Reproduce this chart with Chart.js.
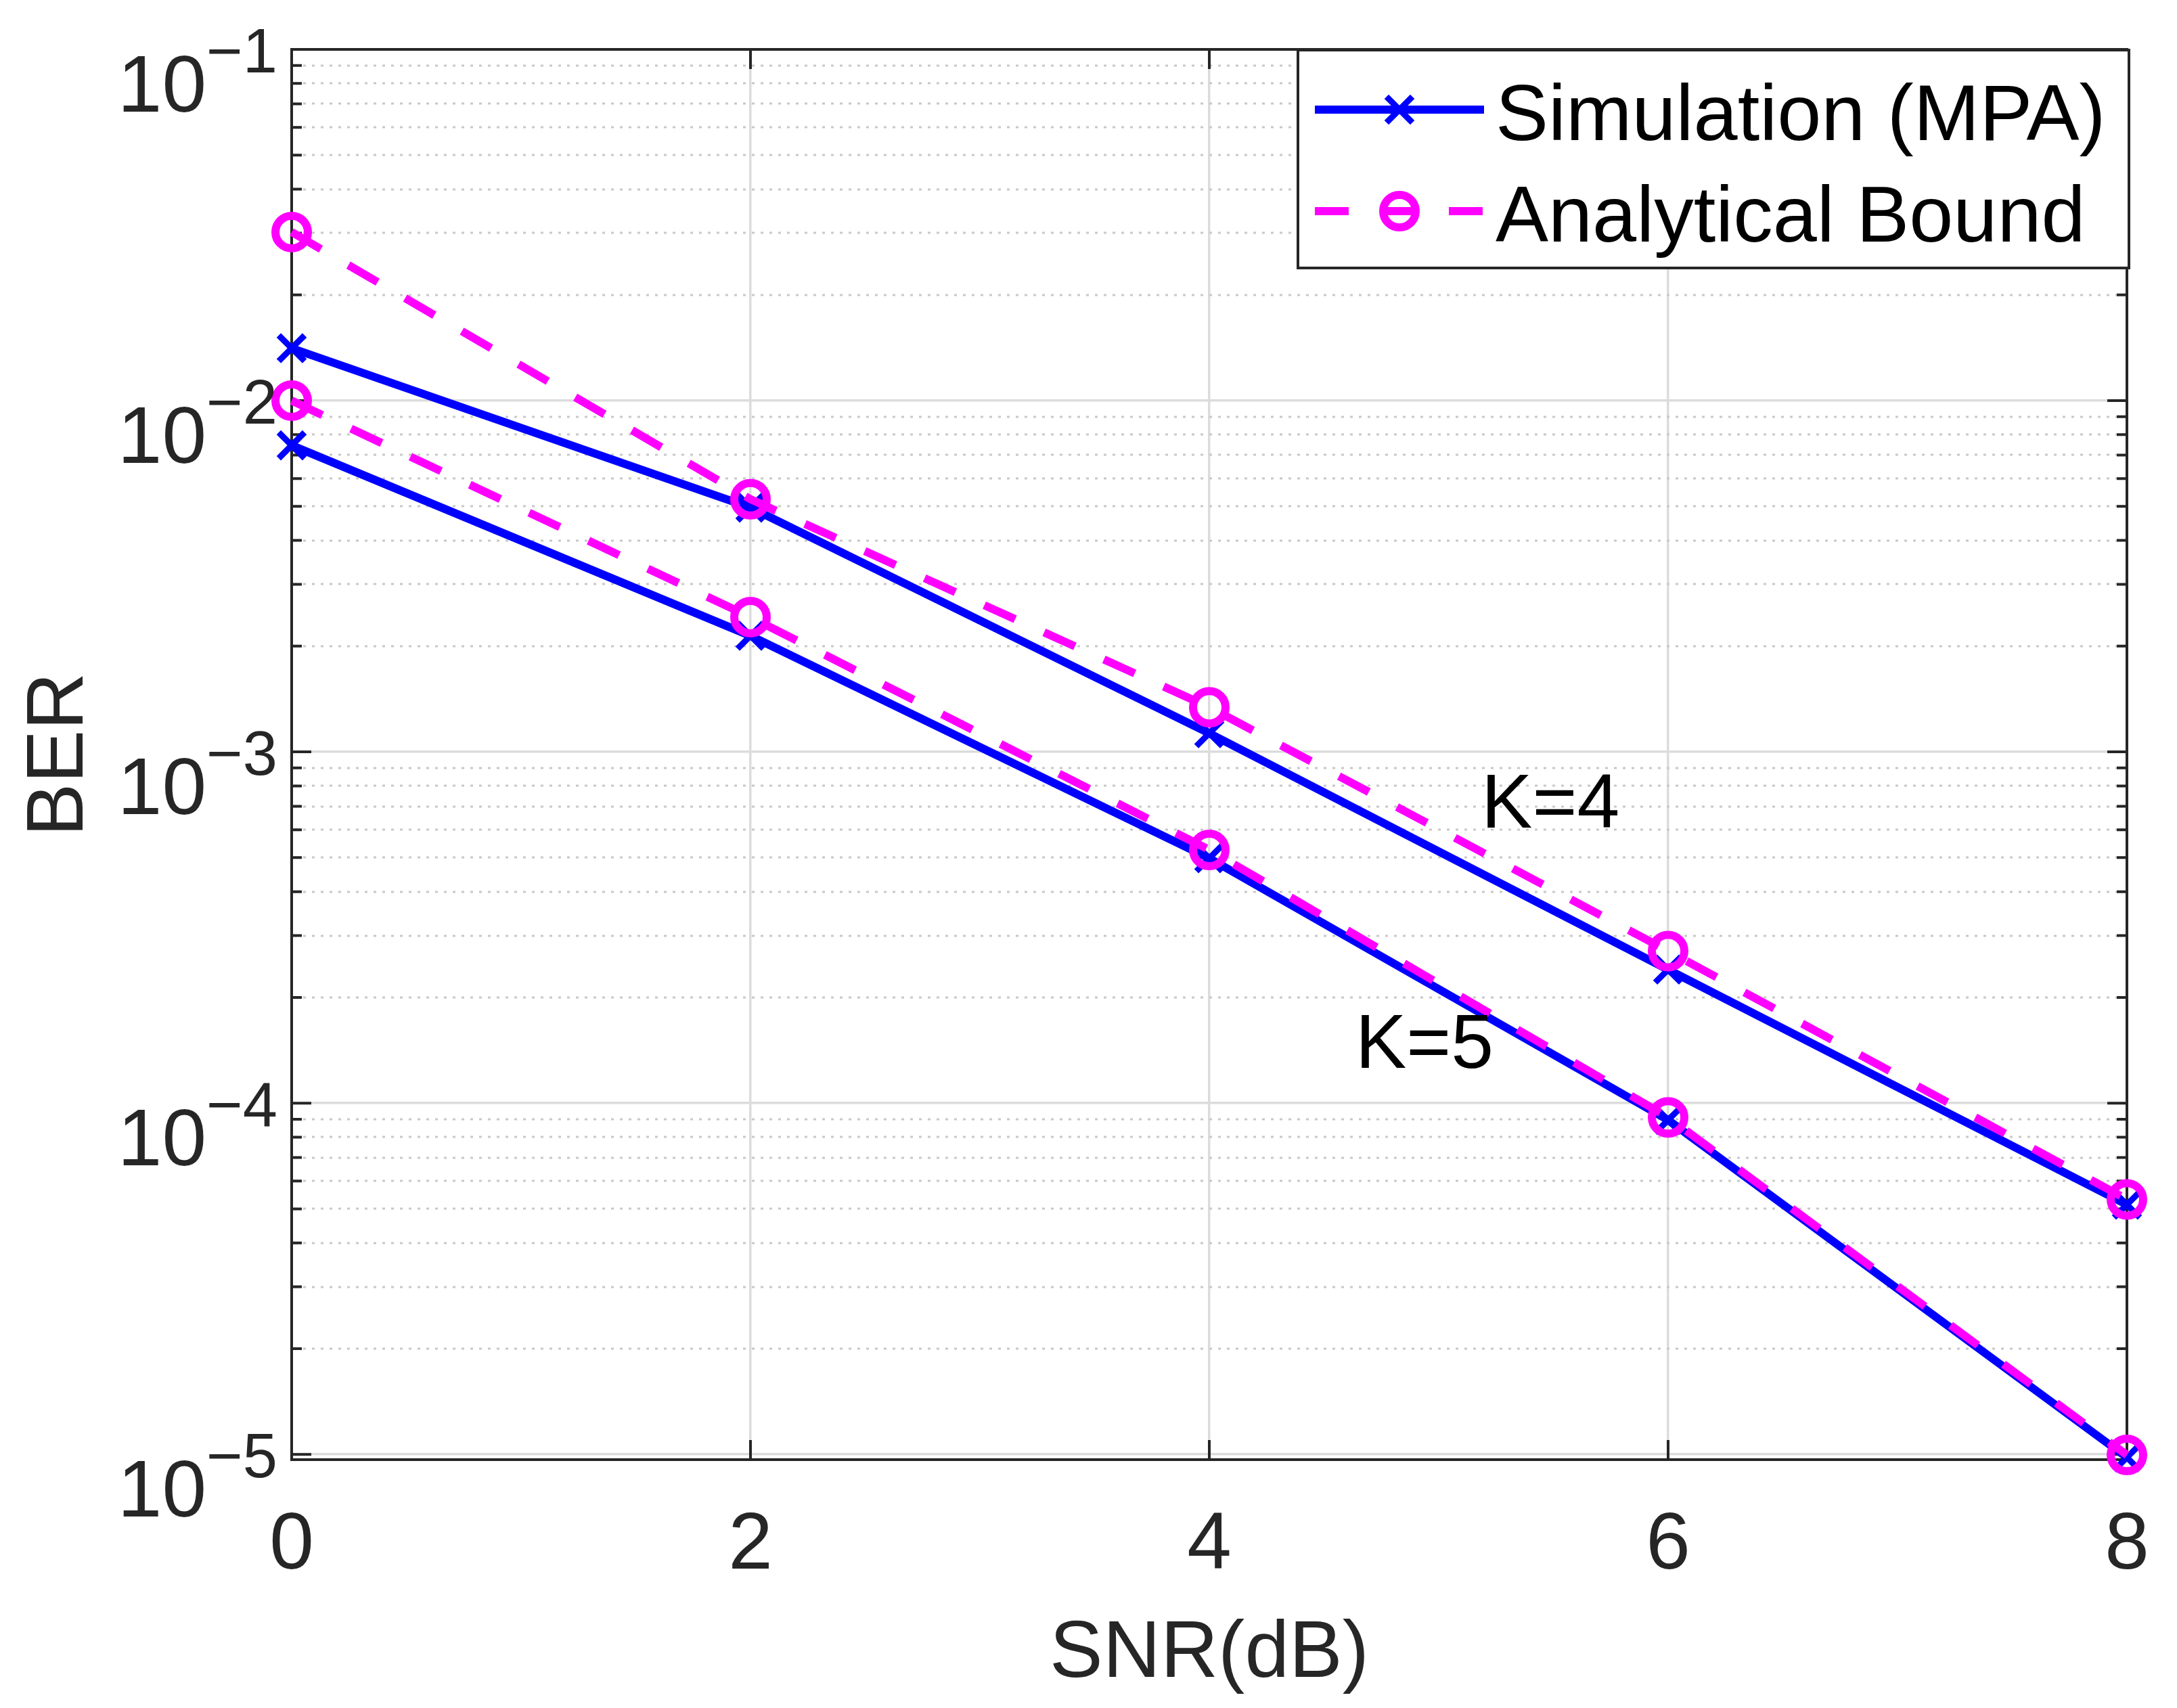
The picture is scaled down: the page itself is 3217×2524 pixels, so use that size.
<!DOCTYPE html>
<html><head><meta charset="utf-8">
<script src="https://cdn.jsdelivr.net/npm/chart.js@4.4.0/dist/chart.umd.min.js"></script>
<style>html,body{margin:0;padding:0;background:#fff;} canvas{display:block;}</style>
</head><body>
<canvas id="c" width="3217" height="2524" style="width:3217px;height:2524px"></canvas>
<script>
// ---- data ----
const snr = [0, 2, 4, 6, 8];
const simK4 = [1.41e-2, 4.96e-3, 1.13e-3, 2.40e-4, 5.14e-5];
const boundK4 = [3.02e-2, 5.24e-3, 1.34e-3, 2.71e-4, 5.32e-5];
const simK5 = [7.46e-3, 2.14e-3, 4.98e-4, 8.95e-5, 9.8e-6];
const boundK5 = [1.0e-2, 2.42e-3, 5.26e-4, 9.11e-5, 9.96e-6];
const xTicks = [0, 2, 4, 6, 8];
const yDecades = [-5, -4, -3, -2, -1];
const seriesNames = ['Simulation (MPA)', 'Analytical Bound'];
const curveNames = ['K=4', 'K=5'];
const curveNamePos = [[5.186, 6.08e-4], [4.637, 1.26e-4]];

// ---- style ----
const FONT = '"Liberation Sans", Arial, Helvetica, sans-serif';
const AX = '#262626';
const BLUE = '#0000ff', MAG = '#ff00ff';
const DASH = [50, 47];

function pts(arr) { return snr.map((x, i) => ({ x: x, y: arr[i] })); }
function simDs(label, arr) {
  return { label: label, data: pts(arr), borderColor: BLUE, backgroundColor: BLUE, borderWidth: 12,
    pointStyle: 'crossRot', pointRadius: 27, pointBorderWidth: 9, pointBorderColor: BLUE,
    pointBackgroundColor: BLUE, fill: false, tension: 0, order: 2, clip: false };
}
function bndDs(label, arr) {
  return { label: label, data: pts(arr), borderColor: MAG, backgroundColor: 'rgba(0,0,0,0)', borderWidth: 12,
    borderDash: DASH, pointStyle: 'circle', pointRadius: 24, pointBorderWidth: 12, pointBorderColor: MAG,
    pointBackgroundColor: 'rgba(0,0,0,0)', fill: false, tension: 0, order: 1, clip: false };
}

const minorVals = [];
for (let k = -6; k <= -2; k++) for (let m = 2; m <= 9; m++) minorVals.push(m * Math.pow(10, k));

const decor = {
  id: 'decor',
  beforeDatasetsDraw(chart) {
    const ctx = chart.ctx, a = chart.chartArea, ys = chart.scales.y, xs = chart.scales.x;
    ctx.save();
    // minor dotted grid
    ctx.strokeStyle = '#c8c8c8'; ctx.lineWidth = 3; ctx.setLineDash([4, 9]);
    minorVals.forEach(v => {
      if (v < ys.min || v > ys.max) return;
      const y = Math.round(ys.getPixelForValue(v));
      ctx.beginPath(); ctx.moveTo(a.left + 4, y); ctx.lineTo(a.right - 4, y); ctx.stroke();
    });
    ctx.setLineDash([]);
    // frame
    ctx.strokeStyle = AX; ctx.lineWidth = 4;
    ctx.strokeRect(a.left, a.top, a.right - a.left, a.bottom - a.top);
    // ticks
    ctx.beginPath();
    yDecades.forEach(k => {
      const y = ys.getPixelForValue(Math.pow(10, k));
      ctx.moveTo(a.left, y); ctx.lineTo(a.left + 29, y);
      ctx.moveTo(a.right, y); ctx.lineTo(a.right - 29, y);
    });
    minorVals.forEach(v => {
      if (v < ys.min || v > ys.max) return;
      const y = ys.getPixelForValue(v);
      ctx.moveTo(a.left, y); ctx.lineTo(a.left + 15, y);
      ctx.moveTo(a.right, y); ctx.lineTo(a.right - 15, y);
    });
    xTicks.forEach(v => {
      const x = xs.getPixelForValue(v);
      ctx.moveTo(x, a.bottom); ctx.lineTo(x, a.bottom - 29);
      ctx.moveTo(x, a.top); ctx.lineTo(x, a.top + 29);
    });
    ctx.stroke();
    ctx.restore();
  },
  afterDraw(chart) {
    const ctx = chart.ctx, a = chart.chartArea, ys = chart.scales.y, xs = chart.scales.x;
    ctx.save();
    ctx.fillStyle = AX;
    ctx.textBaseline = 'alphabetic';
    // x tick labels
    ctx.font = '118px ' + FONT; ctx.textAlign = 'center';
    xTicks.forEach(v => ctx.fillText(String(v), xs.getPixelForValue(v), 2318));
    // y tick labels 10^k
    ctx.textAlign = 'left';
    yDecades.forEach(k => {
      const y = ys.getPixelForValue(Math.pow(10, k));
      ctx.font = '118px ' + FONT;
      const w10 = ctx.measureText('10').width;
      ctx.font = '92px ' + FONT;
      const sup = '\u2212' + Math.abs(k);
      const ws = ctx.measureText(sup).width;
      const x0 = 410 - w10 - ws;
      ctx.font = '118px ' + FONT; ctx.fillText('10', x0, y + 92);
      ctx.font = '92px ' + FONT; ctx.fillText(sup, x0 + w10, y + 34);
    });
    // axis titles
    ctx.font = '118px ' + FONT; ctx.textAlign = 'center';
    ctx.fillText('SNR(dB)', (a.left + a.right) / 2, 2478);
    ctx.save(); ctx.translate(122, (a.top + a.bottom) / 2); ctx.rotate(-Math.PI / 2);
    ctx.fillText('BER', 0, 0); ctx.restore();
    // curve labels
    ctx.fillStyle = '#000'; ctx.font = '113px ' + FONT; ctx.textAlign = 'left';
    curveNames.forEach((t, i) => ctx.fillText(t, xs.getPixelForValue(curveNamePos[i][0]), ys.getPixelForValue(curveNamePos[i][1])));
    // legend
    const L = 1918, R = 3146, T = 74, B = 396;
    ctx.fillStyle = '#fff'; ctx.fillRect(L, T, R - L, B - T);
    ctx.strokeStyle = AX; ctx.lineWidth = 4; ctx.strokeRect(L, T, R - L, B - T);
    const rows = [162, 312];
    ctx.strokeStyle = BLUE; ctx.lineWidth = 12;
    ctx.beginPath(); ctx.moveTo(1943, rows[0]); ctx.lineTo(2193, rows[0]); ctx.stroke();
    ctx.lineWidth = 9; const o = 27 * Math.SQRT1_2;
    ctx.beginPath(); ctx.moveTo(2068 - o, rows[0] - o); ctx.lineTo(2068 + o, rows[0] + o);
    ctx.moveTo(2068 - o, rows[0] + o); ctx.lineTo(2068 + o, rows[0] - o); ctx.stroke();
    ctx.strokeStyle = MAG; ctx.lineWidth = 12; ctx.setLineDash([50, 49]);
    ctx.beginPath(); ctx.moveTo(1943, rows[1]); ctx.lineTo(2193, rows[1]); ctx.stroke();
    ctx.setLineDash([]);
    ctx.beginPath(); ctx.arc(2068, rows[1], 24, 0, Math.PI * 2); ctx.stroke();
    ctx.fillStyle = '#000'; ctx.font = '117px ' + FONT; ctx.textAlign = 'left';
    ctx.fillText(seriesNames[0], 2210, 207);
    ctx.fillText(seriesNames[1], 2210, 357);
    ctx.restore();
  }
};

new Chart(document.getElementById('c'), {
  type: 'line',
  data: { datasets: [
    simDs('Simulation (MPA), K=4', simK4),
    bndDs('Analytical Bound, K=4', boundK4),
    simDs('Simulation (MPA), K=5', simK5),
    bndDs('Analytical Bound, K=5', boundK5)
  ] },
  options: {
    responsive: false, animation: false, devicePixelRatio: 1,
    layout: { padding: { left: 0, right: 74, top: 73, bottom: 0 } },
    plugins: { legend: { display: false }, tooltip: { enabled: false } },
    scales: {
      x: { type: 'linear', min: 0, max: 8,
        afterBuildTicks: s => { s.ticks = xTicks.map(v => ({ value: v })); },
        ticks: { display: false },
        grid: { color: c => (c.tick && (c.tick.value === 0 || c.tick.value === 8)) ? 'rgba(0,0,0,0)' : '#dcdcdc', lineWidth: 3.5, drawTicks: false },
        border: { display: false },
        afterFit: s => { s.height = 2524 - 2157; } },
      y: { type: 'logarithmic', min: 9.66e-6, max: 0.1,
        afterBuildTicks: s => { s.ticks = yDecades.map(k => ({ value: Math.pow(10, k) })); },
        ticks: { display: false },
        grid: { color: c => (c.tick && c.tick.value === 0.1) ? 'rgba(0,0,0,0)' : '#dcdcdc', lineWidth: 3.5, drawTicks: false },
        border: { display: false },
        afterFit: s => { s.width = 431; } }
    }
  },
  plugins: [decor]
});
</script>
</body></html>
